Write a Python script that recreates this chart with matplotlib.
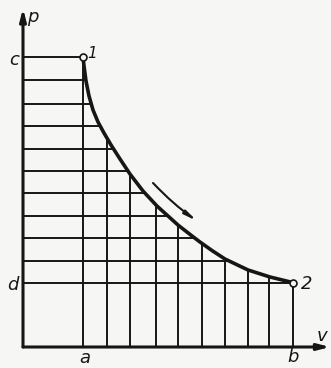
import numpy as np
import matplotlib.pyplot as plt

# expansion curve 1 -> 2 (v, p)
curve_v = [1.0, 1.017, 1.05, 1.1, 1.167, 1.25, 1.35, 1.467, 1.617, 1.783, 2.0,
           2.233, 2.417, 2.583, 2.817, 2.95, 3.15, 3.367, 3.75, 4.117, 4.5]
curve_p = [4.5, 4.363, 4.13, 3.898, 3.68, 3.494, 3.323, 3.137, 2.919, 2.686,
           2.422, 2.189, 2.034, 1.894, 1.724, 1.63, 1.498, 1.366, 1.196, 1.087,
           1.0]

# strips under the curve
grid_v = [1.0, 1.4, 1.783, 2.217, 2.583, 2.983, 3.367, 3.75, 4.1, 4.5]
grid_p = [4.5, 4.146, 3.773, 3.432, 3.075, 2.733, 2.391, 2.034, 1.693, 1.335, 1.0]

ink = "#161616"
paper = "#f6f6f4"

fig = plt.figure(figsize=(3.31, 3.68), dpi=100, facecolor=paper)
ax = fig.add_axes([0, 0, 1, 1])
ax.set_facecolor(paper)
ax.set_xlim(-23 / 60, 308 / 60)
ax.set_ylim(-21 / 64.4, 347 / 64.4)
ax.axis("off")

cv = np.array(curve_v)
cp = np.array(curve_p)

# vertical lines from v axis up to the curve
for v in grid_v:
    top = np.interp(v, cv, cp)
    ax.plot([v, v], [0, top], color=ink, lw=1.4, solid_capstyle="butt")

# horizontal lines from p axis across to the curve
for p in grid_p:
    right = np.interp(p, cp[::-1], cv[::-1])
    ax.plot([0, right], [p, p], color=ink, lw=1.4, solid_capstyle="butt")

ax.plot(cv, cp, color=ink, lw=2.6, solid_capstyle="round",
        solid_joinstyle="round", zorder=3)
ax.plot([cv[0], cv[-1]], [cp[0], cp[-1]], "o", ms=5, mfc=paper, mec=ink,
        mew=1.2, zorder=4)

# axes with arrows
axis_kw = dict(arrowstyle="-|>,head_length=0.7,head_width=0.18", color=ink,
               lw=2.2, shrinkA=0, shrinkB=0)
ax.annotate("", xy=(0, 5.26), xytext=(0, 0), arrowprops=axis_kw)
ax.annotate("", xy=(5.12, 0), xytext=(0, 0), arrowprops=axis_kw)

# direction of the process
ax.annotate("", xy=(2.9, 1.957), xytext=(2.167, 2.547),
            arrowprops=dict(arrowstyle="-|>,head_length=0.7,head_width=0.12",
                            color=ink, lw=1.5, shrinkA=0, shrinkB=0,
                            connectionstyle="arc3,rad=0.05"))

txt = dict(color=ink, fontsize=13, style="italic", ha="center", va="center",
           family="DejaVu Sans")
ax.text(0.16, 5.12, "p", **txt)
ax.text(4.98, 0.17, "v", **txt)
ax.text(-0.14, 4.46, "c", **txt)
ax.text(-0.17, 0.96, "d", **txt)
ax.text(1.03, -0.17, "a", **txt)
ax.text(4.5, -0.16, "b", **txt)
ax.text(1.15, 4.56, "1", **dict(txt, fontsize=11))
ax.text(4.72, 0.98, "2", **txt)

fig.savefig("out.png", dpi=100, facecolor=paper)
